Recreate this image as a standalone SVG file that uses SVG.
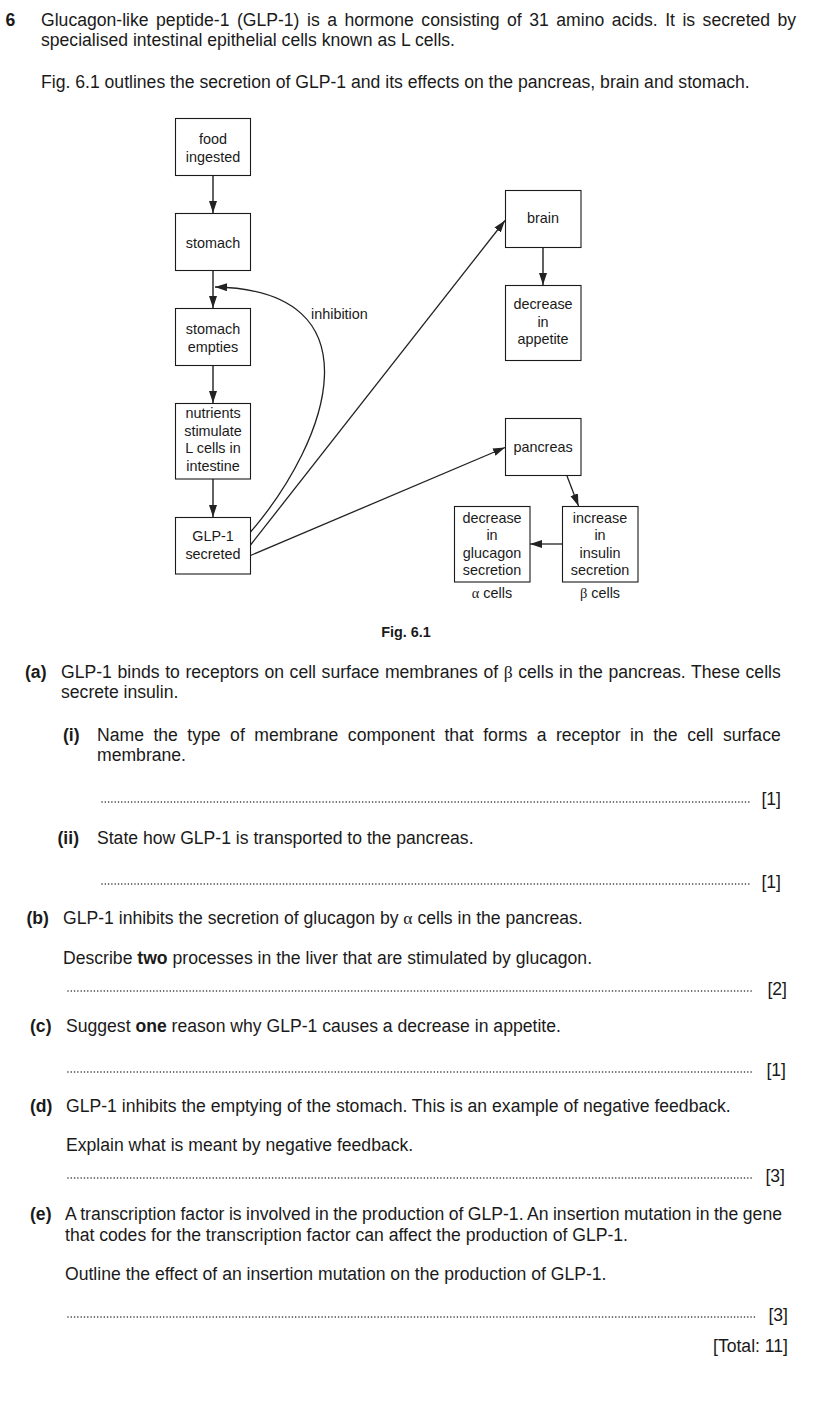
<svg xmlns="http://www.w3.org/2000/svg" width="835" height="1415" viewBox="0 0 835 1415">
<style>
  .t { font-family: "Liberation Sans", Arial, sans-serif; font-size: 17.6px; fill: #1a1a1a; }
  .b { font-weight: bold; }
  .g { font-family: "Liberation Serif", "Times New Roman", serif; }
  .n { font-family: "Liberation Sans", Arial, sans-serif; font-size: 14.4px; fill: #1a1a1a; text-anchor: middle; }
  .box { fill: #ffffff; stroke: #1a1a1a; stroke-width: 1.1; }
  .c { fill: none; stroke: #222222; stroke-width: 1.3; }
  .v { fill: none; stroke: #3a3a3a; stroke-width: 1.6; }
  .dots { fill: none; stroke: #2a2a2a; stroke-width: 1.6; stroke-linecap: round; stroke-dasharray: 0 3.3; }
</style>
<defs>
  <marker id="ah" markerUnits="userSpaceOnUse" markerWidth="13" markerHeight="9" refX="12" refY="4" orient="auto">
    <path d="M0,0 L12,4 L0,8 z" fill="#222222"/>
  </marker>
</defs>
<rect x="0" y="0" width="835" height="1415" fill="#ffffff"/>

<!-- Intro text -->
<g id="intro">
  <text class="t b" x="5.5" y="26">6</text>
  <text class="t" x="41" y="26" word-spacing="2.6">Glucagon-like peptide-1 (GLP-1) is a hormone consisting of 31 amino acids. It is secreted by</text>
  <text class="t" x="41" y="46">specialised intestinal epithelial cells known as L cells.</text>
  <text class="t" x="41" y="88">Fig. 6.1 outlines the secretion of GLP-1 and its effects on the pancreas, brain and stomach.</text>
</g>

<!-- Connectors -->
<g id="connectors">
  <line class="v" x1="213" y1="175" x2="213" y2="213" marker-end="url(#ah)"/>
  <line class="v" x1="213" y1="270" x2="213" y2="308" marker-end="url(#ah)"/>
  <line class="v" x1="213" y1="365" x2="213" y2="403" marker-end="url(#ah)"/>
  <line class="v" x1="213" y1="479" x2="213" y2="517" marker-end="url(#ah)"/>
  <line class="v" x1="543" y1="247" x2="543" y2="285" marker-end="url(#ah)"/>
  <path class="c" d="M250.5,532 C330,440 380,290 215,287" marker-end="url(#ah)"/>
  <line class="c" x1="250.5" y1="545" x2="505" y2="220.5" marker-end="url(#ah)"/>
  <line class="c" x1="250.5" y1="555.5" x2="505" y2="447.5" marker-end="url(#ah)"/>
  <line class="c" x1="567" y1="476" x2="578.5" y2="506" marker-end="url(#ah)"/>
  <line class="c" x1="562" y1="544" x2="530" y2="544" marker-end="url(#ah)"/>
  <text class="n" x="311" y="318.5" text-anchor="start" style="text-anchor:start">inhibition</text>
</g>

<!-- Nodes -->
<g id="food">
  <rect class="box" x="175.5" y="118.5" width="75" height="57"/>
  <text class="n" x="213" y="144.3">food</text>
  <text class="n" x="213" y="162.3">ingested</text>
</g>
<g id="stomach">
  <rect class="box" x="175.5" y="213.5" width="75" height="57"/>
  <text class="n" x="213" y="247.7">stomach</text>
</g>
<g id="stomach-empties">
  <rect class="box" x="175.5" y="308.5" width="75" height="57"/>
  <text class="n" x="213" y="334">stomach</text>
  <text class="n" x="213" y="351.7">empties</text>
</g>
<g id="nutrients">
  <rect class="box" x="175.5" y="403.5" width="75" height="75.5"/>
  <text class="n" x="213" y="418.3">nutrients</text>
  <text class="n" x="213" y="436">stimulate</text>
  <text class="n" x="213" y="453.3">L cells in</text>
  <text class="n" x="213" y="471">intestine</text>
</g>
<g id="glp1">
  <rect class="box" x="175.5" y="517.5" width="75" height="56.5"/>
  <text class="n" x="213" y="540.7">GLP-1</text>
  <text class="n" x="213" y="559.3">secreted</text>
</g>
<g id="brain">
  <rect class="box" x="505.5" y="190.5" width="75.5" height="57"/>
  <text class="n" x="543" y="223.3">brain</text>
</g>
<g id="appetite">
  <rect class="box" x="505.5" y="285.5" width="75.5" height="75"/>
  <text class="n" x="543" y="309.3">decrease</text>
  <text class="n" x="543" y="326.7">in</text>
  <text class="n" x="543" y="344.3">appetite</text>
</g>
<g id="pancreas">
  <rect class="box" x="505.5" y="418.5" width="75.5" height="57"/>
  <text class="n" x="543" y="451.7">pancreas</text>
</g>
<g id="glucagon">
  <rect class="box" x="454.5" y="506.5" width="75.5" height="75.5"/>
  <text class="n" x="492" y="522.7">decrease</text>
  <text class="n" x="492" y="540">in</text>
  <text class="n" x="492" y="557.7">glucagon</text>
  <text class="n" x="492" y="575">secretion</text>
  <text class="n" x="492" y="597.7"><tspan class="g">α</tspan> cells</text>
</g>
<g id="insulin">
  <rect class="box" x="562.5" y="506.5" width="75.5" height="75.5"/>
  <text class="n" x="600" y="522.7">increase</text>
  <text class="n" x="600" y="540">in</text>
  <text class="n" x="600" y="557.7">insulin</text>
  <text class="n" x="600" y="575">secretion</text>
  <text class="n" x="600" y="597.7"><tspan class="g">β</tspan> cells</text>
</g>
<text class="n b" x="406" y="636.7">Fig. 6.1</text>

<!-- Questions -->
<g id="question-a">
  <text class="t b" x="25" y="678">(a)</text>
  <text class="t" x="61" y="678" word-spacing="0.73">GLP-1 binds to receptors on cell surface membranes of <tspan class="g">β</tspan> cells in the pancreas. These cells</text>
  <text class="t" x="61" y="698">secrete insulin.</text>
  <text class="t b" x="63" y="740.5">(i)</text>
  <text class="t" x="97" y="740.5" word-spacing="4.6">Name the type of membrane component that forms a receptor in the cell surface</text>
  <text class="t" x="97" y="761">membrane.</text>
  <line class="dots" x1="102" y1="802" x2="749" y2="802"/>
  <text class="t" x="781" y="805" text-anchor="end">[1]</text>
  <text class="t b" x="57.5" y="844">(ii)</text>
  <text class="t" x="97" y="844">State how GLP-1 is transported to the pancreas.</text>
  <line class="dots" x1="102" y1="884" x2="749" y2="884"/>
  <text class="t" x="781" y="888" text-anchor="end">[1]</text>
</g>
<g id="question-b">
  <text class="t b" x="26.5" y="924">(b)</text>
  <text class="t" x="63" y="924">GLP-1 inhibits the secretion of glucagon by <tspan class="g">α</tspan> cells in the pancreas.</text>
  <text class="t" x="63" y="964">Describe <tspan class="b">two</tspan> processes in the liver that are stimulated by glucagon.</text>
  <line class="dots" x1="68" y1="991" x2="753" y2="991"/>
  <text class="t" x="787" y="995" text-anchor="end">[2]</text>
</g>
<g id="question-c">
  <text class="t b" x="30" y="1032">(c)</text>
  <text class="t" x="66" y="1032">Suggest <tspan class="b">one</tspan> reason why GLP-1 causes a decrease in appetite.</text>
  <line class="dots" x1="68" y1="1072" x2="753" y2="1072"/>
  <text class="t" x="786" y="1076" text-anchor="end">[1]</text>
</g>
<g id="question-d">
  <text class="t b" x="30" y="1112">(d)</text>
  <text class="t" x="66" y="1112">GLP-1 inhibits the emptying of the stomach. This is an example of negative feedback.</text>
  <text class="t" x="66" y="1150.5">Explain what is meant by negative feedback.</text>
  <line class="dots" x1="68" y1="1178" x2="753" y2="1178"/>
  <text class="t" x="785" y="1182" text-anchor="end">[3]</text>
</g>
<g id="question-e">
  <text class="t b" x="30" y="1220">(e)</text>
  <text class="t" x="65" y="1220" word-spacing="-0.45">A transcription factor is involved in the production of GLP-1. An insertion mutation in the gene</text>
  <text class="t" x="65" y="1241">that codes for the transcription factor can affect the production of GLP-1.</text>
  <text class="t" x="65" y="1279.5">Outline the effect of an insertion mutation on the production of GLP-1.</text>
  <line class="dots" x1="68" y1="1317" x2="755" y2="1317"/>
  <text class="t" x="788" y="1321" text-anchor="end">[3]</text>
  <text class="t" x="788" y="1352" text-anchor="end">[Total: 11]</text>
</g>
</svg>
